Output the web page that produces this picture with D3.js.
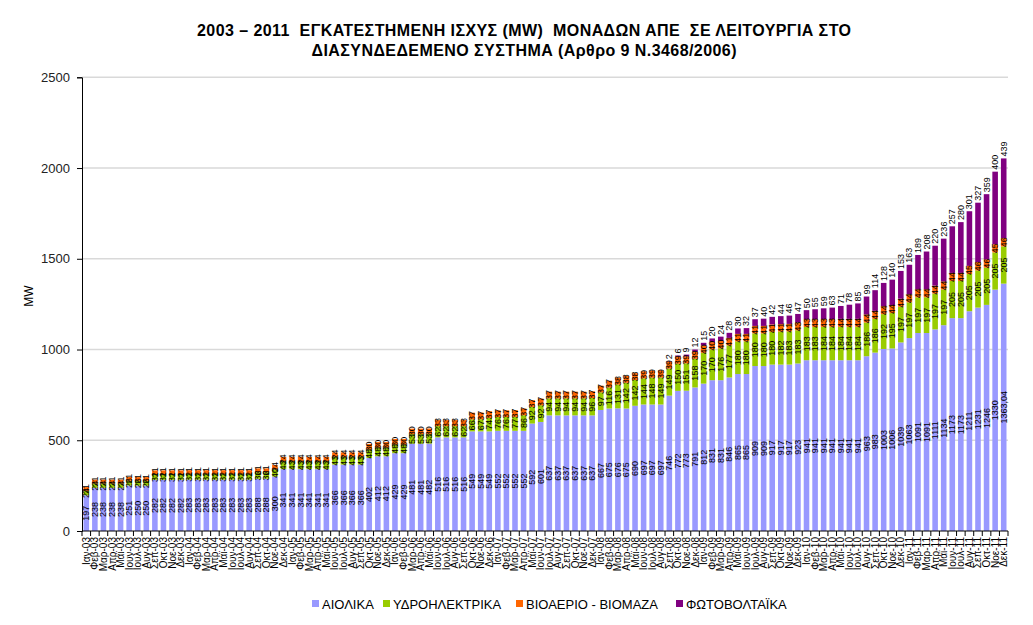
<!DOCTYPE html>
<html><head><meta charset="utf-8">
<script src="https://cdnjs.cloudflare.com/ajax/libs/d3/7.8.5/d3.min.js"></script>
<style>body{margin:0;background:#fff} svg{font-family:"Liberation Sans",Arial,sans-serif}</style>
</head><body><svg id="c" width="1033" height="625"></svg>
<script>
const months = ["Ιαν","Φεβ","Μαρ","Απρ","Μαϊ","Ιουν","Ιουλ","Αυγ","Σεπ","Οκτ","Νοε","Δεκ"];
const years = ["03","04","05","06","07","08","09","10","11"];
const categories = [];
years.forEach(y => months.forEach(m => categories.push(m + "-" + y)));

const wind = [
 197,238,238,238,238,251,250,250,282,282,282,282,
 283,283,283,283,283,283,283,283,288,288,300,341,
 341,341,341,341,341,366,366,366,366,402,412,412,
 429,429,481,481,482,516,516,516,516,549,549,549,
 552,552,552,552,592,601,637,637,637,637,637,637,
 667,675,676,675,690,697,697,697,746,772,773,791,
 812,831,831,846,865,865,909,909,917,917,917,923,
 941,941,941,941,941,941,941,963,983,1003,1006,1039,
 1063,1091,1091,1111,1134,1173,1173,1211,1231,1246,1330,1363.04];
const hydro = [
 24,24,24,24,24,26,26,26,31,31,31,31,
 31,31,31,31,31,31,31,31,36,36,40,43,
 43,43,43,43,43,43,43,43,43,48,48,48,
 48,48,53,53,53,62,62,62,62,66,67,74,
 76,76,77,86,92,92,94,94,94,94,94,96,
 97,116,131,142,142,144,148,149,149,150,151,158,
 170,170,176,177,180,180,180,180,180,182,183,183,
 183,183,184,184,184,184,184,186,186,192,195,197,
 197,197,197,197,197,205,205,205,205,205,205,205];
const bio = [
 21,21,21,21,21,21,21,21,21,21,21,21,
 21,21,21,21,21,21,21,21,21,21,24,24,
 24,24,24,24,24,24,24,24,24,30,30,30,
 30,30,30,30,30,33,33,33,33,37,37,37,
 37,37,37,37,37,37,37,37,37,37,37,37,
 37,37,38,38,38,39,39,39,39,39,39,39,
 40,40,40,41,41,41,41,41,41,41,41,43,
 43,43,43,43,44,44,44,44,44,44,44,44,
 44,44,44,44,44,44,44,45,46,46,45,46];
const pv = [
 0,0,0,0,0,0,0,0,0,0,0,0,
 0,0,0,0,0,0,0,0,0,0,0,0,
 0,0,0,0,0,0,0,0,0,0,0,0,
 0,0,0,0,0,0,0,0,0,0,0,0,
 0,0,0,0,0,0,0,0,0,0,0,0,
 0,0,0,0,0,0,0,0,2,6,9,12,
 15,20,24,28,30,32,37,40,42,44,46,47,
 50,55,59,63,71,78,85,99,114,128,140,153,
 163,189,208,220,236,257,280,301,327,359,400,439];
const yTicks = [0,500,1000,1500,2000,2500];
const seriesNames = ["ΑΙΟΛΙΚΑ","ΥΔΡΟΗΛΕΚΤΡΙΚΑ","ΒΙΟΑΕΡΙΟ - ΒΙΟΜΑΖΑ","ΦΩΤΟΒΟΛΤΑΪΚΑ"];
const colors = ["#9999ff","#99cc00","#ff6600","#800080"];
const titleLines = ["2003 – 2011  ΕΓΚΑΤΕΣΤΗΜΕΝΗ ΙΣΧΥΣ (MW)  ΜΟΝΑΔΩΝ ΑΠΕ  ΣΕ ΛΕΙΤΟΥΡΓΙΑ ΣΤΟ",
                    "ΔΙΑΣΥΝΔΕΔΕΜΕΝΟ ΣΥΣΤΗΜΑ (Αρθρο 9 Ν.3468/2006)"];

const svg = d3.select("#c");
const L = 82, R = 1008, T = 77.3, B = 531;
const x = d3.scaleBand().domain(categories).range([L, R]).paddingInner(0.35).paddingOuter(0.175);
const y = d3.scaleLinear().domain([0, 2500]).range([B, T]);

// title
const titleW = [654, 425];
svg.append("g").selectAll("text").data(titleLines).join("text")
  .attr("x", 524).attr("y", (d,i) => 36 + i*20)
  .attr("text-anchor","middle").attr("font-size", 16).attr("font-weight","bold")
  .attr("xml:space","preserve").style("white-space","pre")
  .attr("textLength", (d,i) => titleW[i]).attr("lengthAdjust","spacing")
  .text(d => d);

// gridlines
svg.append("g").selectAll("line").data(yTicks.filter(d => d > 0)).join("line")
  .attr("x1", L).attr("x2", R).attr("y1", d => y(d)).attr("y2", d => y(d))
  .attr("stroke", "#d9d9d9").attr("stroke-width", 1.5);

// y axis
const ya = svg.append("g").attr("transform", `translate(${L},0)`)
  .call(d3.axisLeft(y).tickValues(yTicks).tickSize(5).tickPadding(7).tickFormat(d3.format("d")));
ya.select(".domain").attr("stroke","#000");
ya.selectAll("text").attr("font-size", 13).attr("fill","#222").attr("font-family","Liberation Sans, Arial");
ya.selectAll(".tick line").attr("stroke","#000");

svg.append("text").attr("transform", "translate(33,296) rotate(-90)")
  .attr("text-anchor","middle").attr("font-size", 12).text("MW");

// stack
const table = categories.map((c,i) => ({cat:c, wind:wind[i], hydro:hydro[i], bio:bio[i], pv:pv[i]}));
const keys = ["wind","hydro","bio","pv"];
const stack = d3.stack().keys(keys)(table);

const gBars = svg.append("g");
stack.forEach((s, k) => {
  gBars.append("g").attr("fill", colors[k]).selectAll("rect").data(s).join("rect")
    .attr("x", d => x(d.data.cat)).attr("width", x.bandwidth())
    .attr("y", d => y(d[1])).attr("height", d => Math.max(0, y(d[0]) - y(d[1])));
});

// x axis
const xa = svg.append("g").attr("transform", `translate(0,${B})`);
xa.append("line").attr("x1", L).attr("x2", R).attr("stroke","#000");
const step = x.step();
xa.selectAll("line.t").data(d3.range(categories.length + 1)).join("line").attr("class","t")
  .attr("x1", i => L + i*step).attr("x2", i => L + i*step).attr("y1",0).attr("y2",5).attr("stroke","#000");
xa.selectAll("text").data(categories).join("text")
  .attr("transform", d => `translate(${x(d) + x.bandwidth()/2 + 3.5},6) rotate(-90)`)
  .attr("text-anchor","end").attr("font-size", 10).text(d => d);

// labels
const fmt = v => String(v).replace(".", ",");
const gLab = svg.append("g").attr("font-size", 9).attr("fill","#000");
stack.forEach((s, k) => {
  s.forEach(d => {
    const v = d.data[keys[k]];
    if (!v) return;
    const cx = x(d.data.cat) + x.bandwidth()/2;
    if (k === 3) {
      gLab.append("text").attr("transform", `translate(${cx + 3},${y(d[1]) - 2}) rotate(-90)`)
        .attr("text-anchor","start").text(fmt(v));
    } else {
      const cy = (y(d[0]) + y(d[1]))/2;
      gLab.append("text").attr("transform", `translate(${cx + 3},${cy}) rotate(-90)`)
        .attr("text-anchor","middle").text(fmt(v));
    }
  });
});

// legend
const legX = [312, 383, 516, 676];
const lg = svg.append("g").attr("font-size", 13);
seriesNames.forEach((n,i) => {
  lg.append("rect").attr("x", legX[i]).attr("y", 600).attr("width", 7).attr("height", 7).attr("fill", colors[i]);
  lg.append("text").attr("x", legX[i] + 10).attr("y", 608.5).text(n);
});
</script></body></html>
